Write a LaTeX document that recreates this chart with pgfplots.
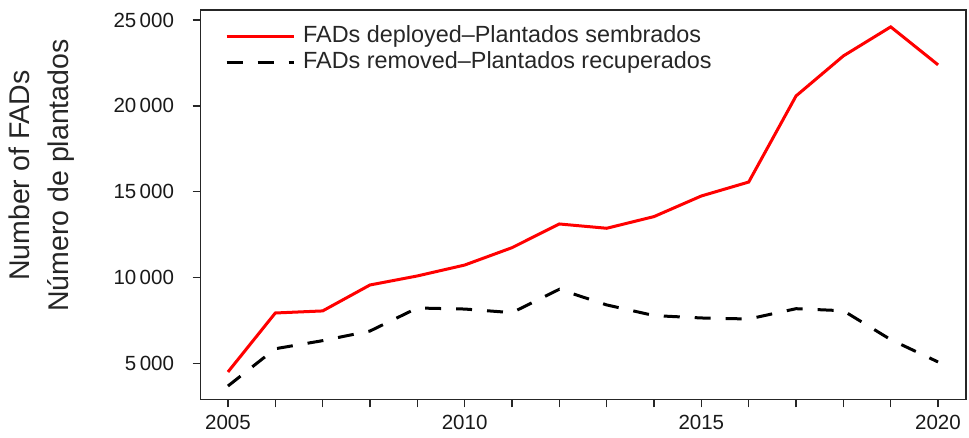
\documentclass[border=0pt]{standalone}
\usepackage{fontspec}
\setmainfont{Liberation Sans}
\usepackage{pgfplots}
\pgfplotsset{compat=1.18}
\begin{document}
\begin{tikzpicture}
\begin{axis}[
  scale only axis, width=765.5pt, height=389.5pt,
  xmin=2004.42, xmax=2020.59, ymin=2916, ymax=25582,
  axis line style={line width=1.3pt, color=black!85},
  xtick={2005,...,2020},
  xticklabels={2005,,,,,2010,,,,,2015,,,,,2020},
  ytick={5000,10000,15000,20000,25000},
  tick align=outside, tick pos=left,
  major tick length=8pt,
  tick style={line width=1.3pt, color=black!85},
  /pgf/number format/assume math mode=true,
  /pgf/number format/1000 sep={\,},
  scaled y ticks=false,
  ticklabel style={font=\fontsize{20.5}{24}\selectfont, text=black!90},
  yticklabel style={xshift=-15pt},
  xticklabel style={yshift=-4pt},
  ylabel={Number of FADs\\Número de plantados},
  ylabel style={align=center, font=\fontsize{28.5}{39}\selectfont, text=black!85,
    at={(axis description cs:-0.208,0.575)}, anchor=center},
  legend style={at={(axis description cs:0.032,0.965)}, anchor=north west,
    draw=none, fill=none, font=\fontsize{23.4}{26}\selectfont, text=black!85,
    inner sep=0pt, row sep=0pt,
    nodes={inner xsep=8pt, inner ysep=2pt, text height=17pt, text depth=5pt}},
  legend cell align=left,
  legend image code/.code={\draw[#1] (0pt,0pt) -- (67pt,0pt);},
]
\addplot[red, line width=3pt] coordinates {
(2005,4517) (2006,7950) (2007,8070) (2008,9580) (2009,10105) (2010,10740)
(2011,11750) (2012,13130) (2013,12880) (2014,13560) (2015,14760) (2016,15570)
(2017,20580) (2018,22910) (2019,24600) (2020,22390)};
\addlegendentry{FADs deployed–Plantados sembrados}
\addplot[black, line width=3pt, dash pattern=on 16pt off 15pt] coordinates {
(2005,3700) (2006,5870) (2007,6340) (2008,6900) (2009,8240) (2010,8180)
(2011,7970) (2012,9330) (2013,8420) (2014,7800) (2015,7660) (2016,7600)
(2017,8200) (2018,8080) (2019,6400) (2020,5100)};
\addlegendentry{FADs removed–Plantados recuperados}
\end{axis}
\path (current axis.south west) ++(-200.5pt,-38.5pt) coordinate (bbA);
\path (current axis.north east) ++(3pt,10pt) coordinate (bbB);
\path (bbA) rectangle (bbB);
\end{tikzpicture}
\end{document}
